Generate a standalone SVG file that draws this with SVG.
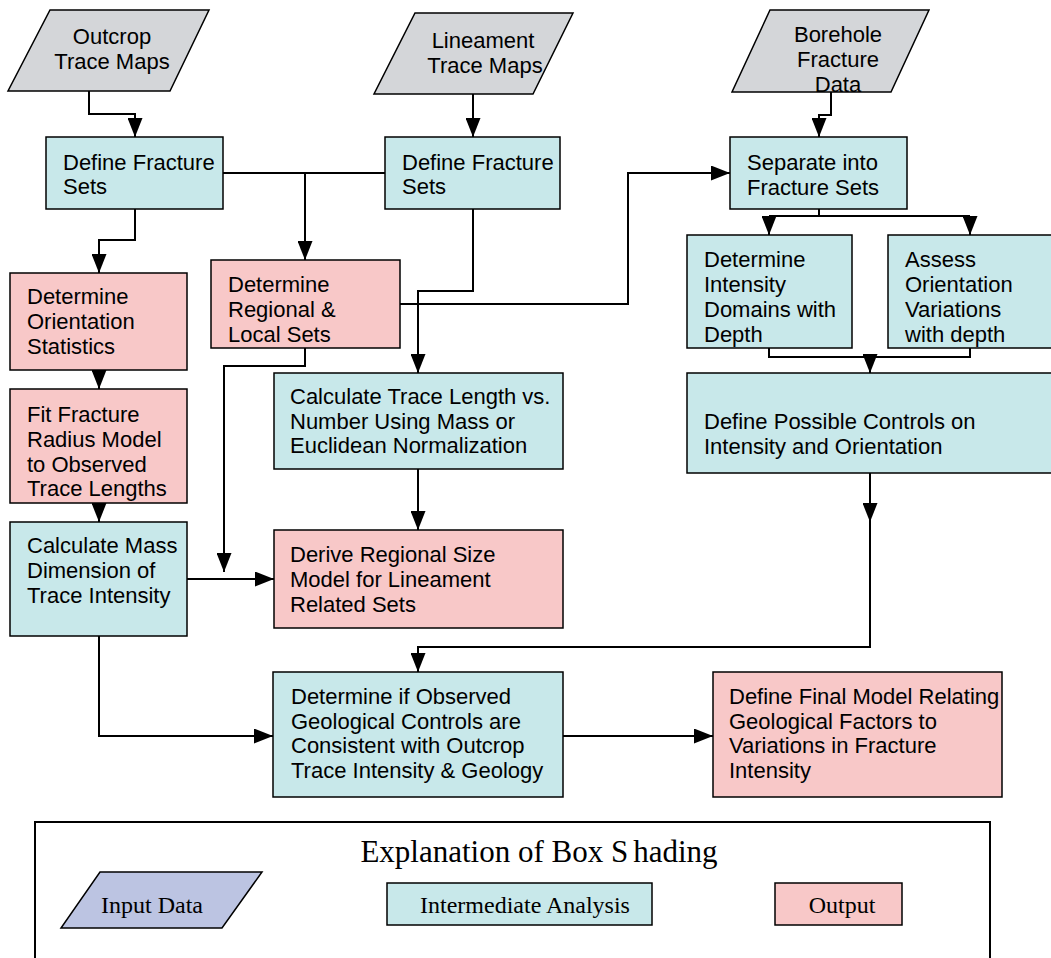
<svg xmlns="http://www.w3.org/2000/svg" width="1051" height="958" viewBox="0 0 1051 958">
<style>
.in{fill:#d4d6d9;stroke:#000;stroke-width:1.5}
.mid{fill:#c8e8ea;stroke:#000;stroke-width:1.5}
.out{fill:#f8c8c8;stroke:#000;stroke-width:1.5}
.leg{fill:#bcc4e2;stroke:#000;stroke-width:1.5}
.t{font-family:"Liberation Sans",Arial,sans-serif;font-size:22px;fill:#000}
.c{text-anchor:middle}
.s{font-family:"Liberation Serif","Times New Roman",serif;fill:#000;text-anchor:middle}
.ln{fill:none;stroke:#000;stroke-width:2}
</style>
<defs>
<marker id="ah" markerUnits="userSpaceOnUse" viewBox="0 0 19 15" refX="19" refY="7.5" markerWidth="19" markerHeight="15" orient="auto">
<path d="M0,0 L19,7.5 L0,15 z" fill="#000"/>
</marker>
</defs>
<rect width="1051" height="958" fill="#fff"/>

<g id="connectors" class="ln">
<path d="M89,91 V114 H135 V137" marker-end="url(#ah)"/>
<path d="M473,94 V137" marker-end="url(#ah)"/>
<path d="M831,92 V115 H819 V137" marker-end="url(#ah)"/>
<path d="M223,173 H385"/>
<path d="M305,173 V260" marker-end="url(#ah)"/>
<path d="M135,209 V240 H99 V273" marker-end="url(#ah)"/>
<path d="M473,209 V291 H418 V373" marker-end="url(#ah)"/>
<path d="M400,304 H628 V173 H730" marker-end="url(#ah)"/>
<path d="M819,209 V216"/>
<path d="M769,216 H970"/>
<path d="M769,216 V235" marker-end="url(#ah)"/>
<path d="M970,216 V235" marker-end="url(#ah)"/>
<path d="M99,370 V389" marker-end="url(#ah)"/>
<path d="M99,503 V522" marker-end="url(#ah)"/>
<path d="M305,348 V366 H224 V572" marker-end="url(#ah)"/>
<path d="M418,469 V530" marker-end="url(#ah)"/>
<path d="M187,579 H274" marker-end="url(#ah)"/>
<path d="M769,348 V357 H970 V348"/>
<path d="M870,357 V373" marker-end="url(#ah)"/>
<path d="M870,473 V522" marker-end="url(#ah)"/>
<path d="M870,520 V647 H418 V672" marker-end="url(#ah)"/>
<path d="M99,636 V736 H273" marker-end="url(#ah)"/>
<path d="M563,736 H713" marker-end="url(#ah)"/>
</g>

<g id="outcrop">
<polygon class="in" points="50,10 209,10 170,91 8,91"/>
<text class="t c" x="112" y="44">Outcrop</text>
<text class="t c" x="112" y="69">Trace Maps</text>
</g>
<g id="lineament">
<polygon class="in" points="415,13 573,13 533,94 374,94"/>
<text class="t c" x="483" y="48">Lineament</text>
<text class="t c" x="485" y="73">Trace Maps</text>
</g>
<g id="borehole">
<polygon class="in" points="770,10 929,10 891,92 732,92"/>
<text class="t c" x="838" y="42">Borehole</text>
<text class="t c" x="838" y="67">Fracture</text>
<text class="t c" x="838" y="92">Data</text>
</g>

<g id="define1">
<rect class="mid" x="46" y="137" width="177" height="72"/>
<text class="t" x="63" y="170">Define Fracture</text>
<text class="t" x="63" y="194">Sets</text>
</g>
<g id="define2">
<rect class="mid" x="385" y="137" width="175" height="72"/>
<text class="t" x="402" y="170">Define Fracture</text>
<text class="t" x="402" y="194">Sets</text>
</g>
<g id="separate">
<rect class="mid" x="730" y="137" width="177" height="72"/>
<text class="t" x="747" y="170">Separate into</text>
<text class="t" x="747" y="195">Fracture Sets</text>
</g>

<g id="orientation">
<rect class="out" x="10" y="273" width="177" height="97"/>
<text class="t" x="27" y="304">Determine</text>
<text class="t" x="27" y="329">Orientation</text>
<text class="t" x="27" y="354">Statistics</text>
</g>
<g id="regional">
<rect class="out" x="211" y="260" width="189" height="88"/>
<text class="t" x="228" y="292">Determine</text>
<text class="t" x="228" y="317">Regional &amp;</text>
<text class="t" x="228" y="342">Local Sets</text>
</g>
<g id="intensity">
<rect class="mid" x="687" y="235" width="165" height="113"/>
<text class="t" x="704" y="267">Determine</text>
<text class="t" x="704" y="292">Intensity</text>
<text class="t" x="704" y="317">Domains with</text>
<text class="t" x="704" y="342">Depth</text>
</g>
<g id="assess">
<rect class="mid" x="888" y="235" width="170" height="113"/>
<text class="t" x="905" y="267">Assess</text>
<text class="t" x="905" y="292">Orientation</text>
<text class="t" x="905" y="317">Variations</text>
<text class="t" x="905" y="342">with depth</text>
</g>

<g id="fit">
<rect class="out" x="10" y="389" width="177" height="114"/>
<text class="t" x="27" y="422">Fit Fracture</text>
<text class="t" x="27" y="447">Radius Model</text>
<text class="t" x="27" y="472">to Observed</text>
<text class="t" x="27" y="496">Trace Lengths</text>
</g>
<g id="tracelength">
<rect class="mid" x="274" y="373" width="289" height="96"/>
<text class="t" x="290" y="404">Calculate Trace Length vs.</text>
<text class="t" x="290" y="429">Number Using Mass or</text>
<text class="t" x="290" y="453">Euclidean Normalization</text>
</g>
<g id="controls">
<rect class="mid" x="687" y="373" width="371" height="100"/>
<text class="t" x="704" y="429">Define Possible Controls on</text>
<text class="t" x="704" y="454">Intensity and Orientation</text>
</g>

<g id="massdim">
<rect class="mid" x="10" y="522" width="177" height="114"/>
<text class="t" x="27" y="553">Calculate Mass</text>
<text class="t" x="27" y="578">Dimension of</text>
<text class="t" x="27" y="603">Trace Intensity</text>
</g>
<g id="sizemodel">
<rect class="out" x="274" y="530" width="289" height="98"/>
<text class="t" x="290" y="562">Derive Regional Size</text>
<text class="t" x="290" y="587">Model for Lineament</text>
<text class="t" x="290" y="612">Related Sets</text>
</g>

<g id="consistent">
<rect class="mid" x="273" y="672" width="290" height="125"/>
<text class="t" x="291" y="704">Determine if Observed</text>
<text class="t" x="291" y="729">Geological Controls are</text>
<text class="t" x="291" y="753">Consistent with Outcrop</text>
<text class="t" x="291" y="778">Trace Intensity &amp; Geology</text>
</g>
<g id="final">
<rect class="out" x="713" y="672" width="289" height="125"/>
<text class="t" x="729" y="704">Define Final Model Relating</text>
<text class="t" x="729" y="729">Geological Factors to</text>
<text class="t" x="729" y="753">Variations in Fracture</text>
<text class="t" x="729" y="778">Intensity</text>
</g>

<g id="legend">
<rect x="35" y="822" width="955" height="150" fill="none" stroke="#000" stroke-width="2"/>
<text class="s" x="539" y="862" font-size="31">Explanation of Box S<tspan dx="5">hading</tspan></text>
<polygon class="leg" points="100,872 262,872 222,928 61,928"/>
<text class="s" x="152" y="913" font-size="24">Input Data</text>
<rect class="mid" x="387" y="883" width="265" height="42"/>
<text class="s" x="525" y="913" font-size="24">Intermediate Analysis</text>
<rect class="out" x="775" y="883" width="127" height="42"/>
<text class="s" x="842" y="913" font-size="24">Output</text>
</g>
</svg>
